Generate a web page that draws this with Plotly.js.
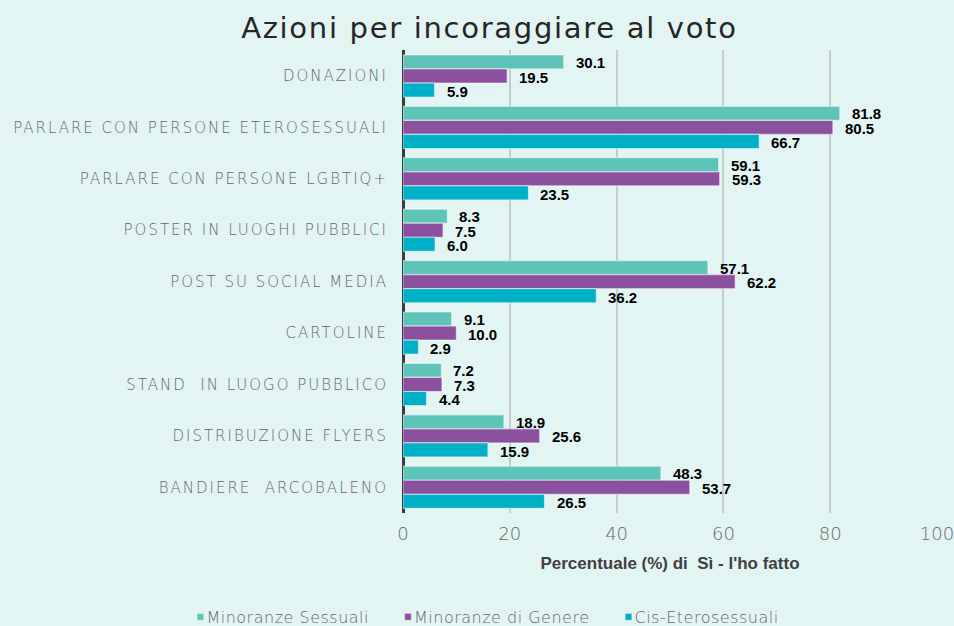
<!DOCTYPE html>
<html>
<head>
<meta charset="utf-8">
<script src="https://cdn.plot.ly/plotly-3.0.1.min.js"></script>
<style>
html,body{margin:0;padding:0;background:#E3F5F3;}
#chart{width:954px;height:626px;}
#chart .ytick text{letter-spacing:2px;}
#chart .gtitle{letter-spacing:1.7px;}
text.legendtext{letter-spacing:0.5px;}
#chart .legendpoints path{transform:translate(34px,0px) scale(0.55);}
</style>
</head>
<body>
<div id="chart"></div>
<script>
const categories = [
  "DONAZIONI",
  "PARLARE CON PERSONE ETEROSESSUALI",
  "PARLARE CON PERSONE LGBTIQ+",
  "POSTER IN LUOGHI PUBBLICI",
  "POST SU SOCIAL MEDIA",
  "CARTOLINE",
  "STAND  IN LUOGO PUBBLICO",
  "DISTRIBUZIONE FLYERS",
  "BANDIERE  ARCOBALENO"
];
const minoranzeSessuali = [30.1, 81.8, 59.1, 8.3, 57.1, 9.1, 7.2, 18.9, 48.3];
const minoranzeGenere   = [19.5, 80.5, 59.3, 7.5, 62.2, 10.0, 7.3, 25.6, 53.7];
const cisEtero          = [5.9, 66.7, 23.5, 6.0, 36.2, 2.9, 4.4, 15.9, 26.5];
const seriesNames = ["Minoranze Sessuali", "Minoranze di Genere", "Cis-Eterosessuali"];
const xTicks = [0, 20, 40, 60, 80, 100];

const colors = ["#5EC4B7", "#8B519F", "#00B0C7"];
const allSeries = [minoranzeSessuali, minoranzeGenere, cisEtero];

const traces = allSeries.map((vals, i) => ({
  type: "bar",
  orientation: "h",
  name: seriesNames[i],
  y: categories,
  x: vals,
  marker: {color: colors[i], line: {color: "rgba(255,255,255,0.5)", width: 1.2}},
  hoverinfo: "x+name"
}));

const annotations = [];
const shifts = [-14.5, 0, 14.5];
allSeries.forEach((vals, i) => {
  vals.forEach((v, j) => {
    annotations.push({
      x: v, y: categories[j], xref: "x", yref: "y",
      text: v.toFixed(1), showarrow: false,
      xanchor: "left", yanchor: "middle",
      xshift: 10, yshift: -shifts[i] - 1,
      font: {family: "Liberation Sans, Arial, sans-serif", size: 15, color: "#000000", weight: 700}
    });
  });
});

const lightFont = "DejaVu Sans, sans-serif";

const layout = {
  width: 954, height: 626,
  paper_bgcolor: "#E3F5F3",
  plot_bgcolor: "#E3F5F3",
  margin: {l: 403, r: 17, t: 50, b: 113, pad: 0, autoexpand: false},
  barmode: "group",
  bargap: 0.18,
  bargroupgap: 0,
  title: {
    text: "Azioni per incoraggiare al voto",
    x: 0.513, xref: "container", xanchor: "center",
    y: 0.955, yref: "container", yanchor: "middle",
    font: {family: lightFont, size: 29, color: "#262626", weight: 500}
  },
  xaxis: {
    range: [0, 100],
    tickvals: xTicks,
    ticktext: xTicks.map(String),
    showgrid: true, gridcolor: "#C3CDCC", gridwidth: 2,
    zeroline: true, zerolinecolor: "#3A3D3F", zerolinewidth: 3,
    showline: false, ticks: "",
    tickfont: {family: lightFont, size: 18, color: "#666666", weight: 200},
    ticklabelstandoff: 8,
    ticklabeloverflow: "allow",
    automargin: false,
    title: {
      text: "Percentuale (%) di  Sì - l'ho fatto",
      standoff: 14,
      font: {family: "Liberation Sans, Arial, sans-serif", size: 17, color: "#404040", weight: 700}
    },
    fixedrange: true
  },
  yaxis: {
    autorange: "reversed",
    type: "category",
    showgrid: false, zeroline: false, showline: false, ticks: "",
    tickfont: {family: lightFont, size: 15, color: "#666666", weight: 200},
    ticklabelstandoff: 14,
    automargin: false,
    fixedrange: true
  },
  showlegend: true,
  legend: {
    orientation: "h",
    xref: "paper", x: -0.443, xanchor: "left",
    yref: "paper", y: -0.2246, yanchor: "middle",
    font: {family: lightFont, size: 16, color: "#666666", weight: 200},
    itemwidth: 30,
    bgcolor: "rgba(0,0,0,0)"
  },
  annotations: annotations
};

Plotly.newPlot("chart", traces, layout, {displayModeBar: false, staticPlot: true});
</script>
</body>
</html>
